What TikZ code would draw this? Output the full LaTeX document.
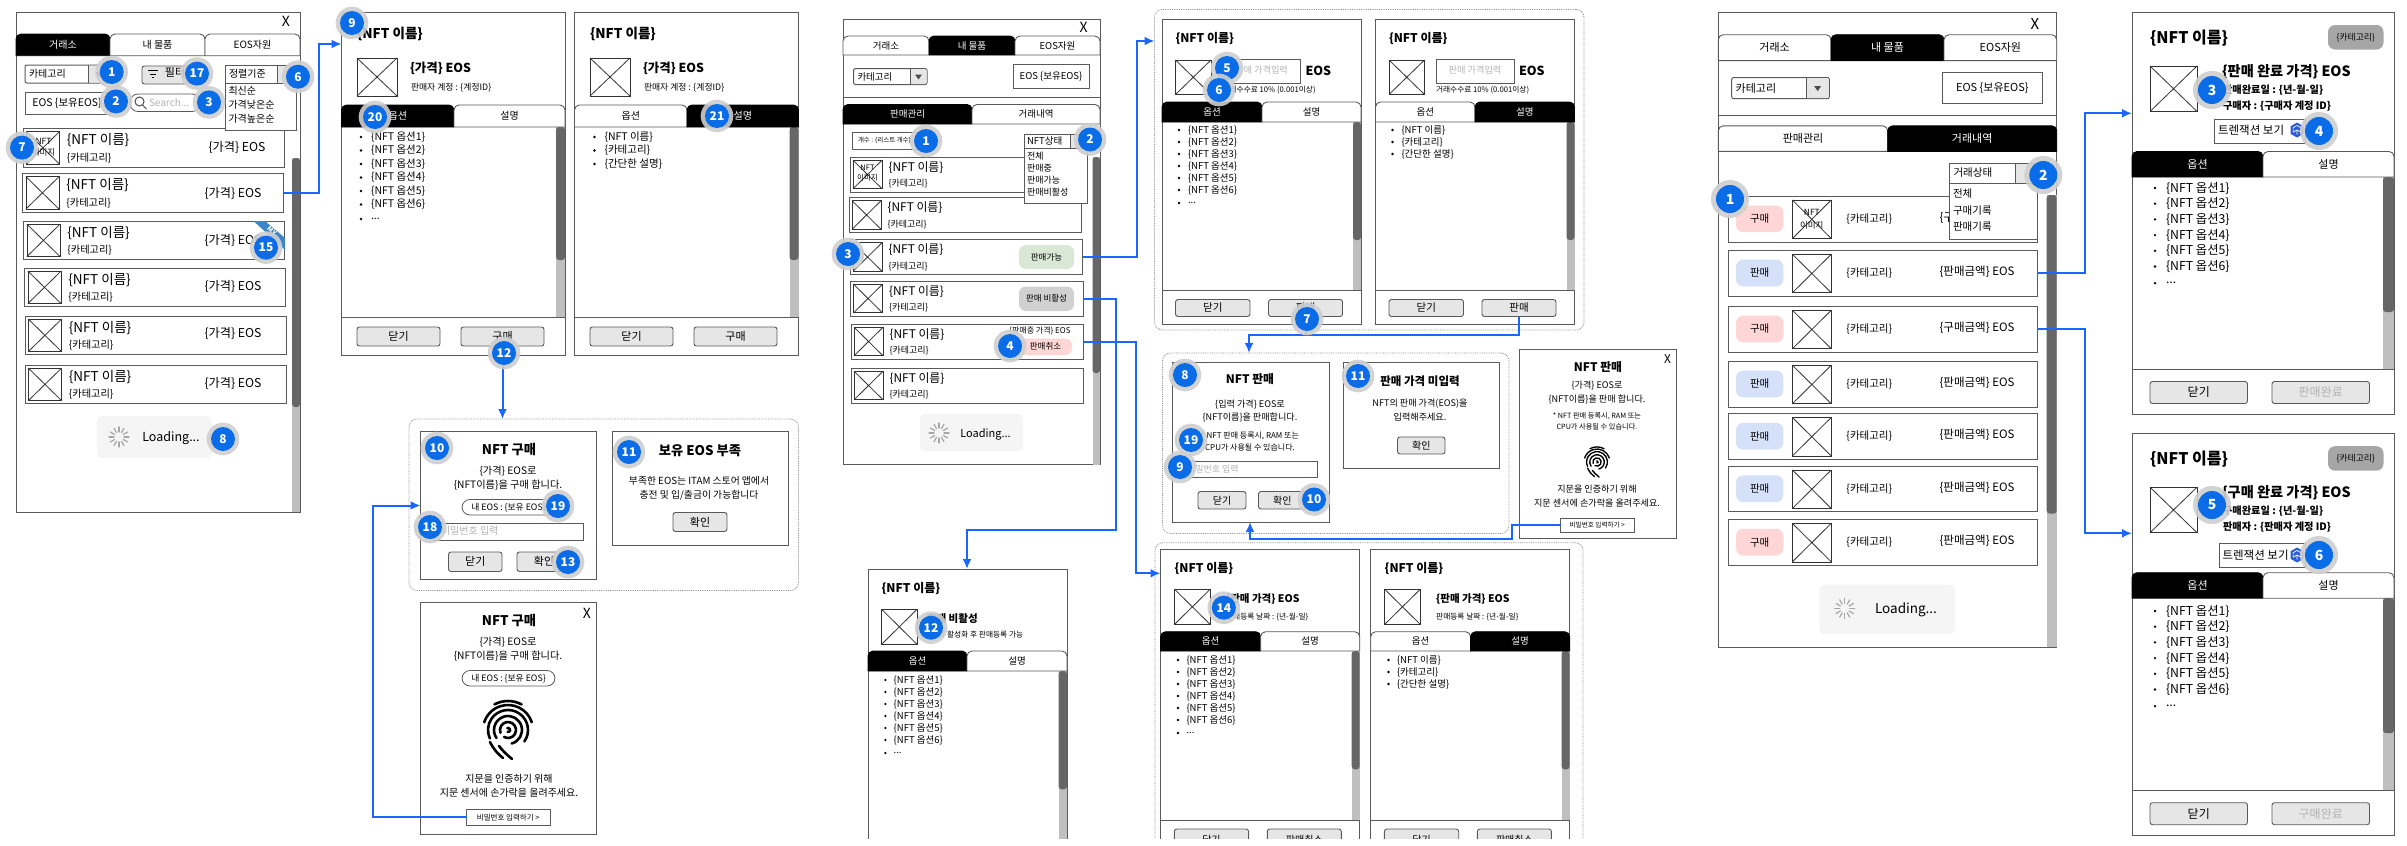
\documentclass[tikz,border=0pt]{standalone}
\usepackage{fontspec}
\setmainfont{Noto Sans CJK KR}
\usetikzlibrary{arrows.meta}
\definecolor{flowblue}{HTML}{1A66FF}
\definecolor{badgeblue}{HTML}{0A6CE6}
\definecolor{haloc}{HTML}{CFCFCF}
\definecolor{linec}{HTML}{5A5A5A}
\definecolor{scrolldark}{HTML}{666666}
\definecolor{scrolllight}{HTML}{BFBFBF}
\definecolor{btnc}{HTML}{E6E6E6}
\definecolor{phc}{HTML}{B3B3B3}
\definecolor{loadc}{HTML}{F5F5F5}
\definecolor{pinkc}{HTML}{FFD6D6}
\definecolor{bluec}{HTML}{D4E1F9}
\definecolor{greenc}{HTML}{D9E8D5}
\definecolor{ribbonc}{HTML}{3D85C6}
\newcounter{lblno}
\tikzset{
  lblw/.style={anchor=west,inner sep=0pt,outer sep=0pt},
  lblc/.style={anchor=center,inner sep=0pt,outer sep=0pt},
  frame/.style={draw=linec,fill=white,line width=1pt,inner sep=0pt,outer sep=0pt},
  rowbox/.style={frame},
  imgcell/.style={draw=black!80,fill=white,line width=.8pt,inner sep=0pt,outer sep=0pt},
  btn/.style={draw=linec,fill=btnc,rounded corners=2.5pt,line width=.9pt,inner sep=0pt,outer sep=0pt},
  pill/.style={draw=linec,fill=white,rounded corners=8pt,line width=.8pt,inner sep=0pt,outer sep=0pt},
  group/.style={draw=black!45,densely dotted,rounded corners=8pt,line width=.8pt,inner sep=0pt,outer sep=0pt},
  statepill/.style={rounded corners=7pt,inner sep=0pt,outer sep=0pt},
  tabon/.style={fill=black,draw=black,text=white,line width=.9pt},
  taboff/.style={fill=white,draw=linec,text=black,line width=.9pt},
  flow/.style={draw=flowblue,line width=2pt,-{Latex[length=10pt,width=9pt]}},
  flowplain/.style={draw=flowblue,line width=2pt},
  divider/.style={draw=linec,line width=1pt},
}
\newcommand{\fsz}[1]{\fontsize{#1}{#1}\selectfont}
% text label: [colour]{lblw or lblc}{size}{x}{y}{text}
\newcommand{\lbl}[6][black]{\stepcounter{lblno}\node[#2,text=#1,font=\fsz{#3}] (lbl\thelblno) at ({#4},{#5}) {#6};}
% box from two corners: {style}{name}{x1}{y1}{x2}{y2}{text}
\newcommand{\bx}[7]{\pgfmathsetmacro\bw{(#5)-(#3)}\pgfmathsetmacro\bh{(#6)-(#4)}%
  \node[#1,minimum width=\bw pt,minimum height=\bh pt] (#2) at ({((#3)+(#5))/2},{((#4)+(#6))/2}) {#7};}
\newcommand{\imgbox}[5]{\bx{imgcell}{#1}{#2}{#3}{#4}{#5}{}
  \draw[black!80,line width=.8pt] (#1.north west) -- (#1.south east) (#1.north east) -- (#1.south west);}
% list row: {name}{x1}{y1}{x2}{y2}{image width}
\newcommand{\nftrow}[6]{\pgfmathsetmacro\rowh{(#5)-(#3)}\pgfmathsetmacro\rowin{.105*#6}%
  \pgfmathsetmacro\fa{.41*#6}\pgfmathsetmacro\fb{.31*#6}%
  \pgfmathsetmacro\rnx{#2+1.33*#6}\pgfmathsetmacro\rny{#3+.3*\rowh}\pgfmathsetmacro\rcy{#3+.765*\rowh}%
  \bx{rowbox}{#1}{#2}{#3}{#4}{#5}{}
  \imgbox{#1-img}{#2+\rowin}{#3+3.2}{#2+\rowin+#6}{#5-3.2}
  \lbl{lblw}{\fa}{\rnx}{\rny}{\{NFT 이름\}}
  \lbl{lblw}{\fb}{\rnx}{\rcy}{\{카테고리\}}}
% tab: {name}{x1}{top}{x2}{bottom}{on or off}{size}{text}
\newcommand{\tabcell}[8]{\draw[tab#6] (#2,#5) [rounded corners=5pt] -- (#2,#3) -- (#4,#3) [sharp corners] -- (#4,#5) -- cycle;
  \node[tab#6,draw=none,fill=none,inner sep=0pt,font=\fsz{#7}] (#1) at ({(#2+#4)/2},{(#3+#5)/2}) {#8};}
\newcommand{\tabpair}[9]{\tabcell{#1-t1}{#2}{#5}{#3}{#6}{#7}{#9}{옵션}\tabcell{#1-t2}{#3}{#5}{#4}{#6}{#8}{#9}{설명}}
\newcommand{\scrollbar}[5]{\fill[scrolllight] (#1,#3) rectangle (#2,#5);
  \fill[scrolldark,rounded corners=3pt] (#1,#3) rectangle (#2,#4);}
% bullets: {bullet x}{text x}{first y}{step}{size}
\newcommand{\optlist}[5]{\foreach \i in {1,...,6}{\pgfmathsetmacro\ly{#3+(\i-1)*#4}
    \fill (#1,\ly) circle (1.3pt); \lbl{lblw}{#5}{#2}{\ly}{\{NFT 옵션\i\}}}
  \pgfmathsetmacro\ly{#3+6*#4+1}\fill (#1,\ly) circle (1.3pt); \lbl{lblw}{#5}{#2}{\ly}{...}}
\newcommand{\desclist}[5]{\foreach \i/\t in {0/{\{NFT 이름\}},1/{\{카테고리\}},2/{\{간단한 설명\}}}{\pgfmathsetmacro\ly{#3+\i*#4}
    \fill (#1,\ly) circle (1.3pt); \lbl{lblw}{#5}{#2}{\ly}{\t}}}
\newcommand{\dropdown}[7]{\bx{draw=linec,fill=white,rounded corners=2pt,line width=1pt,inner sep=0pt,outer sep=0pt}{#1}{#2}{#3}{#5}{#6}{}
  \fill[btnc,rounded corners=1.5pt] (#4,#3+.5) rectangle (#5-.5,#6-.5);
  \draw[linec,line width=1pt] (#4,#3) -- (#4,#6);
  \fill[black!70] ({(#4+#5)/2-3.5},{(#3+#6)/2-2}) -- ({(#4+#5)/2+3.5},{(#3+#6)/2-2}) -- ({(#4+#5)/2},{(#3+#6)/2+3}) -- cycle;
  \lbl{lblw}{#7}{#2+4}{(#3+#6)/2}{카테고리}}
\newcommand{\spinner}[2]{\begin{scope}[shift={(#1,#2)}]
  \foreach \a in {0,30,...,330} \draw[black!35,line width=1.2pt,line cap=round] (\a:5) -- (\a:10);
  \end{scope}}
\newcommand{\badge}[4][12]{\stepcounter{lblno}\fill[haloc,opacity=.9] (#2,#3) circle ({1.36*#1 pt});
  \node[circle,fill=badgeblue,text=white,inner sep=0pt,minimum size={2*#1 pt},font=\fsz{#1}\bfseries] (bdg\thelblno) at (#2,#3) {#4};}
\newcommand{\fingerprint}[3]{\begin{scope}[shift={(#1,#2)},x=#3pt,y=#3pt,line width={2.6*#3 pt},line cap=round]
  \draw (62:29) arc[start angle=62,end angle=118,radius=29];
  \draw (18:25) arc[start angle=18,end angle=162,radius=25];
  \draw (-35:20) arc[start angle=-35,end angle=205,radius=20];
  \draw (-75:14) arc[start angle=-75,end angle=215,radius=14];
  \draw (-120:8) arc[start angle=-120,end angle=200,radius=8];
  \draw (-100:2) arc[start angle=-100,end angle=110,radius=2];
  \draw (-18,-12) .. controls (-14,-20) and (-10,-24) .. (-5,-28);
  \draw (-9,-16) .. controls (-6,-20) and (-1,-25) .. (4,-29);
  \end{scope}}
\newcommand{\cubeicon}[2]{\begin{scope}[shift={(#1,#2)}]
  \fill[ribbonc!70!blue] (30:7.5) -- (90:7.5) -- (150:7.5) -- (210:7.5) -- (270:7.5) -- (330:7.5) -- cycle;
  \draw[white,line width=.7pt] (150:4.5) -- (0,0) -- (30:4.5) (0,0) -- (90:4.5) (150:4.5) -- (210:4.5) -- (270:4.5) -- (330:4.5) -- (30:4.5);
  \end{scope}}

\begin{document}
\begin{tikzpicture}[x=1pt,y=-1pt]
\useasboundingbox (0,0) rectangle (2407,846);
\fill[white] (0,0) rectangle (2407,846);

% ---------- market list ----------
\bx{frame}{mkt}{16}{12.5}{300}{512}{}
\scrollbar{292}{300}{158}{407}{512}
\lbl{lblc}{14}{286}{21}{X}
\tabcell{mkt-t1}{16}{34}{110}{55.7}{on}{10}{거래소}
\tabcell{mkt-t2}{110}{34}{205}{55.7}{off}{10}{내 물품}
\tabcell{mkt-t3}{205}{34}{300}{55.7}{off}{10}{EOS자원}
\dropdown{mkt-cat}{25}{65}{88}{110}{83}{10}
\bx{btn}{mkt-filter}{142}{66}{193}{84}{}
\draw[black,line width=1pt] (148,70.5) -- (158,70.5) (150,74) -- (156,74) (152,77.5) -- (154,77.5);
\lbl{lblc}{11}{175}{72}{필터}
\bx{frame}{mkt-eos}{25}{92}{110}{114}{}
\lbl{lblc}{10.5}{67}{103}{EOS \{보유EOS\}}
\bx{pill}{mkt-search}{130}{94}{200}{111.5}{}
\draw[black!70,line width=1pt] (139.5,101.5) circle (4.5pt) (142.5,105) -- (146.5,109);
\lbl[phc]{lblw}{10}{149}{102.5}{Search...}
\foreach \n/\y/\xa in {1/128.5/23,2/173.5/22.5,3/221/23.5,4/268/24.5,5/316/25,6/365/25}{
  \nftrow{mkt-r\n}{\xa}{\y}{\xa+261}{\y+38.7}{33}
}
\foreach \y/\xp in {147/237,193/233,240/233,286.5/233,333.5/233,383/233}{
  \lbl{lblc}{12.2}{\xp}{\y}{\{가격\} EOS}
}
\lbl{lblc}{8.5}{43.5}{141}{NFT}
\lbl{lblc}{8.5}{43.5}{152}{이미지}
\fill[ribbonc] (253.5,221) -- (265,221) -- (285,238) -- (285,250) -- cycle;
\node[lblc,text=white,rotate=-40,font=\fsz{6.5}\bfseries] (mkt-my) at (272,231) {MY};
\bx{frame}{mkt-sort}{225}{65}{290}{83}{}
\fill[btnc] (277,65.5) rectangle (289.5,82.5);
\draw[linec] (277,65) -- (277,83);
\lbl{lblw}{10}{229}{74}{정렬기준}
\bx{frame}{mkt-sortlist}{225}{83}{296.5}{130.5}{}
\foreach \y/\t in {91/최신순,105/가격낮은순,118.6/가격높은순}{\lbl{lblw}{10}{228.5}{\y}{\t}}
\bx{draw=none,fill=loadc,rounded corners=5pt,inner sep=0pt,outer sep=0pt}{mkt-load}{97}{416}{212}{458}{}
\spinner{119}{437}
\lbl{lblc}{12.5}{171}{438}{Loading...}

% ---------- item detail, buy ----------
\foreach \p/\xa/\xb/\xs/\ona/\onb in {d1/341.5/565/454/on/off,d2/574.5/798.5/687/off/on}{
  \bx{frame}{\p}{\xa}{12.5}{\xb}{355}{}
  \scrollbar{\xb-9}{\xb}{127}{260}{317}
  \tabpair{\p}{\xa}{\xs}{\xb}{105}{127}{\ona}{\onb}{10}
  \draw[divider] (\xa,317.5) -- (\xb,317.5);
  \lbl{lblw}{13.5}{\xa+15.5}{34}{\bfseries\{NFT 이름\}}
  \imgbox{\p-img}{\xa+15.5}{58}{\xa+55.5}{96}
  \lbl{lblw}{12.4}{\xa+68.5}{68.5}{\bfseries\{가격\} EOS}
  \lbl{lblw}{8.8}{\xa+69.5}{87.5}{판매자 계정 : \{계정ID\}}
  \bx{btn,font=\fsz{11}}{\p-close}{\xa+15.5}{327}{\xa+98.5}{346}{닫기}
  \bx{btn,font=\fsz{11}}{\p-buy}{\xa+119.5}{327}{\xa+202.5}{346}{구매}
}
\optlist{361}{371}{137}{13.5}{10.5}
\desclist{594.5}{604.5}{137}{13.5}{10.5}

% ---------- buy dialogs ----------
\bx{group}{g1}{409}{419}{798.5}{590.5}{}
\bx{frame}{buy}{420.5}{431.5}{596}{579.5}{}
\lbl{lblc}{13.3}{509}{450}{\bfseries NFT 구매}
\lbl{lblc}{10.2}{508}{471}{\{가격\} EOS로}
\lbl{lblc}{10.2}{508}{485}{\{NFT이름\}을 구매 합니다.}
\bx{pill,font=\fsz{8.8}}{buy-eos}{462}{499.5}{555}{515}{내 EOS : \{보유 EOS\}}
\bx{frame}{buy-pw}{433}{523}{583}{540}{}
\lbl[phc]{lblw}{10}{441}{531}{비밀번호 입력}
\bx{btn,font=\fsz{11}}{buy-close}{448.5}{552}{502}{571.5}{닫기}
\bx{btn,font=\fsz{11}}{buy-ok}{517}{552}{571}{571.5}{확인}
\bx{frame}{lack}{612.5}{431.5}{788}{545.5}{}
\lbl{lblc}{13.3}{700}{451}{\bfseries 보유 EOS 부족}
\lbl{lblc}{9.8}{699}{481}{부족한 EOS는 ITAM 스토어 앱에서}
\lbl{lblc}{9.8}{699}{495}{충전 및 입/출금이 가능합니다}
\bx{btn,font=\fsz{11}}{lack-ok}{673}{512.5}{727}{531.5}{확인}
\bx{frame}{fp1}{420.5}{602.5}{596}{834}{}
\lbl{lblc}{14}{587}{613}{X}
\lbl{lblc}{13.3}{509}{621}{\bfseries NFT 구매}
\lbl{lblc}{10.2}{508}{642}{\{가격\} EOS로}
\lbl{lblc}{10.2}{508}{656}{\{NFT이름\}을 구매 합니다.}
\bx{pill,font=\fsz{8.8}}{fp1-eos}{462}{670.5}{555}{686}{내 EOS : \{보유 EOS\}}
\fingerprint{508}{730}{1}
\lbl{lblc}{10}{509}{779}{지문을 인증하기 위해}
\lbl{lblc}{10}{509}{793}{지문 센서에 손가락을 올려주세요.}
\bx{frame,font=\fsz{7.5}}{fp1-btn}{466.5}{809.5}{550}{825}{비밀번호 입력하기 >}

% ---------- my items, sell list ----------
\bx{frame}{sell}{843}{19.5}{1100}{464.5}{}
\scrollbar{1092.5}{1100}{157}{373}{464.5}
\lbl{lblc}{14}{1083.5}{27.5}{X}
\tabcell{sell-t1}{843}{36}{929}{55}{off}{9.5}{거래소}
\tabcell{sell-t2}{929}{36}{1015}{55}{on}{9.5}{내 물품}
\tabcell{sell-t3}{1015}{36}{1100}{55}{off}{9.5}{EOS자원}
\dropdown{sell-cat}{853.5}{68.5}{910}{927}{84.5}{9.5}
\bx{frame,font=\fsz{9.5}}{sell-eos}{1013}{64.5}{1089}{88.5}{EOS \{보유EOS\}}
\draw[divider] (843,97.5) -- (1100,97.5);
\tabcell{sell-s1}{843}{104.5}{972}{124}{on}{9.5}{판매관리}
\tabcell{sell-s2}{972}{104.5}{1100}{124}{off}{9.5}{거래내역}
\bx{frame}{sell-count}{852}{132}{920}{149}{}
\lbl{lblw}{6.5}{858}{140.5}{개수 : \{리스트 개수\}}
\foreach \n/\y/\xa in {1/157/850,2/197.5/849,3/239.5/850,4/281/850.5,5/324/851,6/368/851}{
  \nftrow{sell-r\n}{\xa}{\y}{\xa+232.5}{\y+35}{29}
}
\lbl{lblc}{7.5}{867.5}{168}{NFT}
\lbl{lblc}{7.5}{867.5}{178}{이미지}
\bx{statepill,fill=greenc,font=\fsz{8.5}}{sell-ok}{1019}{245}{1074}{269}{판매가능}
\bx{statepill,fill=black!18,font=\fsz{8.5}}{sell-off}{1019}{286.5}{1074}{311}{판매 비활성}
\lbl{lblc}{8}{1040}{330.5}{\{판매중 가격\} EOS}
\bx{statepill,fill=pinkc,font=\fsz{8.5}}{sell-cancel}{1019}{338.5}{1072}{355}{판매취소}
\bx{frame}{sell-state}{1024}{134}{1088}{148}{}
\fill[btnc] (1070,134.5) rectangle (1087.5,147.5);
\draw[linec] (1070,134) -- (1070,148);
\lbl{lblw}{9.5}{1027}{141}{NFT상태}
\bx{frame}{sell-statelist}{1024}{148}{1087.5}{203}{}
\foreach \y/\t in {156/전체,168/판매중,180/판매가능,192/판매비활성}{\lbl{lblw}{9}{1027}{\y}{\t}}
\bx{draw=none,fill=loadc,rounded corners=5pt,inner sep=0pt,outer sep=0pt}{sell-load}{920}{414}{1023}{451}{}
\spinner{939}{433}
\lbl{lblc}{11}{985.5}{434}{Loading...}

% ---------- sell detail ----------
\bx{group}{g2}{1154.5}{9.5}{1584}{330}{}
\foreach \p/\xa/\xb/\xs/\ona/\onb in {s1/1162/1361/1262/on/off,s2/1375.5/1574.5/1475/off/on}{
  \bx{frame}{\p}{\xa}{19.5}{\xb}{324.5}{}
  \scrollbar{\xb-8}{\xb}{122}{240}{290}
  \tabpair{\p}{\xa}{\xs}{\xb}{102}{122}{\ona}{\onb}{9.5}
  \draw[divider] (\xa,290.5) -- (\xb,290.5);
  \lbl{lblw}{12}{\xa+13.5}{38}{\bfseries\{NFT 이름\}}
  \imgbox{\p-img}{\xa+13.5}{60}{\xa+49}{94.5}
  \bx{frame}{\p-price}{\xa+60.5}{59.5}{\xa+138.5}{83}{}
  \lbl[phc]{lblc}{9.2}{\xa+99.5}{70.5}{판매 가격입력}
  \lbl{lblw}{12.5}{\xa+143.5}{71}{\bfseries EOS}
  \lbl{lblw}{7.7}{\xa+60.5}{90}{거래수수료 10\% (0.001이상)}
  \bx{btn,font=\fsz{10.5}}{\p-close}{\xa+13.5}{299.5}{\xa+88}{316.5}{닫기}
  \bx{btn,font=\fsz{10.5}}{\p-sell}{\xa+106.5}{299.5}{\xa+180.5}{316.5}{판매}
}
\optlist{1179}{1188}{130}{12}{9.5}
\desclist{1392.5}{1401.5}{130}{12}{9.5}

% ---------- sell dialogs ----------
\bx{group}{g3}{1162.5}{353}{1509}{533.5}{}
\bx{frame}{sd}{1172}{362.5}{1329}{522}{}
\lbl{lblc}{11.8}{1250}{379}{\bfseries NFT 판매}
\lbl{lblc}{9.1}{1250}{405}{\{입력 가격\} EOS로}
\lbl{lblc}{9.1}{1250}{417}{\{NFT이름\}을 판매합니다.}
\lbl{lblc}{8}{1250}{436}{* NFT 판매 등록시, RAM 또는}
\lbl{lblc}{8}{1250}{448}{CPU가 사용될 수 있습니다.}
\bx{frame}{sd-pw}{1188}{461}{1317}{477.5}{}
\lbl[phc]{lblw}{9}{1187}{469}{비밀번호 입력}
\bx{btn,font=\fsz{10}}{sd-close}{1198}{491.5}{1246}{509}{닫기}
\bx{btn,font=\fsz{10}}{sd-ok}{1258.5}{491.5}{1306}{509}{확인}
\bx{frame}{np}{1343}{362.5}{1499}{468}{}
\lbl{lblc}{11.5}{1420}{381}{\bfseries 판매 가격 미입력}
\lbl{lblc}{9.1}{1420}{404}{NFT의 판매 가격(EOS)을}
\lbl{lblc}{9.1}{1420}{417}{입력해주세요.}
\bx{btn,font=\fsz{10}}{np-ok}{1397.5}{437}{1445}{454}{확인}
\bx{frame}{fp2}{1519.5}{349}{1676}{538}{}
\lbl{lblc}{12}{1667.5}{359.5}{X}
\lbl{lblc}{11.8}{1598}{367}{\bfseries NFT 판매}
\lbl{lblc}{9.1}{1597}{386}{\{가격\} EOS로}
\lbl{lblc}{9.1}{1597}{399}{\{NFT이름\}을 판매 합니다.}
\lbl{lblc}{7.2}{1597}{416}{* NFT 판매 등록시, RAM 또는}
\lbl{lblc}{7.2}{1597}{427}{CPU가 사용될 수 있습니다.}
\fingerprint{1597}{462}{.52}
\lbl{lblc}{9.1}{1597}{489.5}{지문을 인증하기 위해}
\lbl{lblc}{9.1}{1597}{503.5}{지문 센서에 손가락을 올려주세요.}
\bx{frame,font=\fsz{6.6}}{fp2-btn}{1560.5}{518}{1634}{532}{비밀번호 입력하기 >}

% ---------- inactive and on-sale detail, cut at the bottom ----------
\begin{scope}
\clip (850,500) rectangle (1600,838);
\bx{frame}{off}{868}{569.3}{1067}{856}{}
\scrollbar{1058.6}{1067}{671}{789.3}{856}
\tabpair{off}{868}{967}{1067}{651}{671}{on}{off}{9.5}
\lbl{lblw}{12}{881.6}{588.3}{\bfseries\{NFT 이름\}}
\imgbox{off-img}{881.6}{609.3}{917}{644.3}
\lbl{lblw}{10.5}{927}{619}{\bfseries 판매 비활성}
\lbl{lblw}{7.7}{931}{635}{NFT 활성화 후 판매등록 가능}
\optlist{885.4}{893.7}{680}{12}{9.5}
\bx{group}{g4}{1155}{542.7}{1583}{860}{}
\foreach \p/\xa/\xb/\xs/\ona/\onb in {h1/1160.6/1359.7/1260.6/on/off,h2/1370.7/1569.6/1470.6/off/on}{
  \bx{frame}{\p}{\xa}{549.3}{\xb}{856}{}
  \scrollbar{\xb-8}{\xb}{651}{769.3}{820.7}
  \tabpair{\p}{\xa}{\xs}{\xb}{631.7}{651}{\ona}{\onb}{9.5}
  \draw[divider] (\xa,820.7) -- (\xb,820.7);
  \lbl{lblw}{12}{\xa+14}{568.7}{\bfseries\{NFT 이름\}}
  \imgbox{\p-img}{\xa+14}{589.3}{\xa+49.5}{624.3}
  \lbl{lblw}{10.5}{\xa+65.5}{599}{\bfseries\{판매 가격\} EOS}
  \lbl{lblw}{7.7}{\xa+65.5}{617}{판매등록 날짜 : \{년-월-일\}}
  \bx{btn,font=\fsz{10}}{\p-close}{\xa+13.7}{829}{\xa+88}{850}{닫기}
  \bx{btn,font=\fsz{10}}{\p-cancel}{\xa+106.7}{829}{\xa+180.7}{850}{판매취소}
}
\optlist{1178}{1186.5}{660}{12}{9.5}
\desclist{1388.5}{1397}{660}{12}{9.5}
\end{scope}

% ---------- my items, history list ----------
\bx{frame}{hist}{1718.3}{12.7}{2056.7}{647}{}
\scrollbar{2046.7}{2056.7}{195}{513.6}{647}
\lbl{lblc}{15}{2035}{23.7}{X}
\tabcell{hist-t1}{1718.3}{34.7}{1831}{60.6}{off}{11}{거래소}
\tabcell{hist-t2}{1831}{34.7}{1944}{60.6}{on}{11}{내 물품}
\tabcell{hist-t3}{1944}{34.7}{2056.7}{60.6}{off}{11}{EOS자원}
\dropdown{hist-cat}{1731.7}{77.5}{1806}{1829.3}{98.7}{11}
\bx{frame,font=\fsz{11}}{hist-eos}{1942.3}{72}{2042.3}{103.8}{EOS \{보유EOS\}}
\draw[divider] (1718.3,115.7) -- (2056.7,115.7);
\tabcell{hist-s1}{1718.3}{125.8}{1887.7}{151.3}{off}{11}{판매관리}
\tabcell{hist-s2}{1887.7}{125.8}{2056.7}{151.3}{on}{11}{거래내역}
\foreach \n/\y/\t/\c/\am in {1/196.2/구매/pinkc/구매,2/250.4/판매/bluec/판매,3/306.4/구매/pinkc/구매,4/361.4/판매/bluec/판매,5/413.6/판매/bluec/판매,6/466.1/판매/bluec/판매,7/519.5/구매/pinkc/판매}{
  \bx{rowbox}{hist-r\n}{1728.3}{\y}{2037.3}{\y+45.8}{}
  \bx{statepill,fill=\c,font=\fsz{10.5}}{hist-p\n}{1736}{\y+9.3}{1783.3}{\y+36}{\t}
  \imgbox{hist-i\n}{1792.3}{\y+3.8}{1831.3}{\y+42.4}
  \lbl{lblc}{10.5}{1869.3}{\y+22.5}{\{카테고리\}}
  \lbl{lblc}{11.5}{1977}{\y+21.5}{\{\am 금액\} EOS}
}
\lbl{lblc}{8.5}{1811.8}{212}{NFT}
\lbl{lblc}{8.5}{1811.8}{225}{이미지}
\bx{frame}{hist-state}{1949.3}{163.6}{2037.3}{183}{}
\fill[btnc] (2015,164) rectangle (2036.8,182.5);
\draw[linec] (2015,163.6) -- (2015,183);
\lbl{lblw}{10.5}{1953.5}{173}{거래상태}
\bx{frame}{hist-statelist}{1949.3}{183}{2037.3}{239.4}{}
\foreach \y/\t in {194/전체,210.6/구매기록,226.3/판매기록}{\lbl{lblw}{10.5}{1953}{\y}{\t}}
\bx{draw=none,fill=loadc,rounded corners=5pt,inner sep=0pt,outer sep=0pt}{hist-load}{1819.3}{584.7}{1955}{634}{}
\spinner{1844.7}{608.5}
\lbl{lblc}{13.5}{1906}{610}{Loading...}

% ---------- history detail ----------
\foreach \p/\ya/\done/\who in {r1/0/판매/구매자,r2/421.2/구매/판매자}{
  \begin{scope}[shift={(0,\ya)}]
  \bx{frame}{\p}{2132}{12.5}{2394}{414.5}{}
  \scrollbar{2383}{2394}{177}{312}{369.5}
  \tabpair{\p}{2132}{2263}{2394}{151.5}{177}{on}{off}{11}
  \draw[divider] (2132,369.5) -- (2394,369.5);
  \lbl{lblw}{16}{2150}{38}{\bfseries\{NFT 이름\}}
  \bx{statepill,fill=black!35,font=\fsz{8.8}}{\p-cat}{2328}{25}{2383.5}{49.5}{\{카테고리\}}
  \imgbox{\p-img}{2150}{66}{2197}{111.5}
  \lbl{lblw}{14.2}{2222}{72}{\bfseries\{\done{} 완료 가격\} EOS}
  \lbl{lblw}{10.2}{2223}{90}{\bfseries\done 완료일 : \{년-월-일\}}
  \lbl{lblw}{10.2}{2223}{106}{\bfseries\who{} : \{\who{} 계정 ID\}}
  \bx{btn,font=\fsz{12},draw=linec}{\p-close}{2150}{381.5}{2247.5}{403.5}{닫기}
  \bx{btn,font=\fsz{12},draw=linec,text=phc}{\p-done}{2272}{381.5}{2369.5}{403.5}{\done 완료}
  \end{scope}
}
\bx{frame}{r1-tx}{2214.5}{119}{2305}{143}{}
\lbl{lblw}{11.5}{2218}{130}{트렌잭션 보기}
\cubeicon{2297}{130}
\bx{frame}{r2-tx}{2219}{543}{2305}{567}{}
\lbl{lblw}{11.5}{2222.5}{555}{트렌잭션 보기}
\cubeicon{2297}{555}
\optlist{2155}{2166}{188}{15.7}{12.3}
\optlist{2155}{2166}{611}{15.7}{12.3}

% ---------- flow lines ----------
\coordinate (c1) at (319,44); \coordinate (d1in) at (341.5,44);
\draw[flow] (mkt-r2.east) -| (c1) -- (d1in);
\draw[flow] (d1-buy.south) -- (d1-buy.south |- g1.north);
\coordinate (c3) at (373,505.5); \coordinate (buyin) at (420.5,505.5);
\draw[flow] (fp1-btn.west) -| (c3) -- (buyin);
\coordinate (c4) at (1136.5,41); \coordinate (s1in) at (1154.5,41);
\draw[flow] (sell-r3.east) -| (c4) -- (s1in);
\coordinate (c5) at (1115.5,529.7); \coordinate (offin) at (967,569);
\draw[flow] (sell-r4.east) -| (c5) -| (offin);
\coordinate (c6) at (1135.5,573.3); \coordinate (h1in) at (1160.5,573.3);
\draw[flow] (sell-r5.east) -| (c6) -- (h1in);
\coordinate (c7) at (1249,334.5); \coordinate (g3in) at (1249,353);
\draw[flowplain] (s1-sell.south) |- (c7);
\draw[flow] (s2-sell.south) |- (c7) -- (g3in);
\coordinate (c8) at (1512,538.5); \coordinate (sdin) at (1250,522);
\draw[flow] (fp2-btn.west) -| (c8) -| (sdin);
\coordinate (c9) at (2084.7,113.3); \coordinate (r1in) at (2132,113.3);
\draw[flow] (hist-r2.east) -| (c9) -- (r1in);
\coordinate (c10) at (2084.7,533.3); \coordinate (r2in) at (2132,533.3);
\draw[flow] (hist-r3.east) -| (c10) -- (r2in);

% ---------- number badges ----------
\badge{111.7}{72}{1} \badge{116}{101.4}{2} \badge{209}{102.4}{3} \badge{298}{76.7}{6}
\badge{22}{147.6}{7} \badge{223}{439}{8} \badge{266}{247.6}{15} \badge{197}{73.6}{17}
\badge{352}{23}{9} \badge{375}{117}{20} \badge{717}{116}{21} \badge{504}{353}{12}
\badge{437}{448}{10} \badge{558}{506}{19} \badge{430}{527}{18} \badge{568}{562}{13} \badge{629}{452}{11}
\badge{926}{141}{1} \badge{1090}{139.5}{2} \badge{848}{254}{3} \badge{1010}{346}{4}
\badge{1227}{68}{5} \badge{1219}{90}{6} \badge{1307}{319}{7}
\badge{1185}{375}{8} \badge{1191}{440}{19} \badge{1180}{467}{9} \badge{1314}{499.5}{10} \badge{1358}{376}{11}
\badge{931}{627.7}{12} \badge{1223.8}{607.7}{14}
\badge[14]{1730}{199}{1} \badge[14]{2043.3}{175}{2}
\badge[14]{2212}{90}{3} \badge[14]{2319}{131}{4} \badge[14]{2212}{505}{5} \badge[14]{2319}{555}{6}
\end{tikzpicture}
\end{document}
